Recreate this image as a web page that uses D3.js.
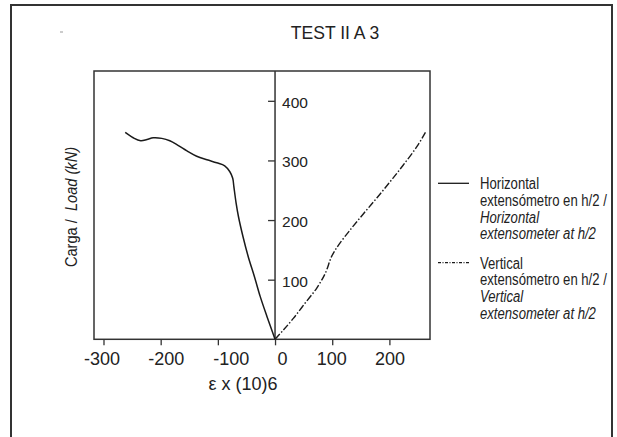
<!DOCTYPE html>
<html>
<head>
<meta charset="utf-8">
<script src="https://cdn.jsdelivr.net/npm/d3@7"></script>
<style>
  body { margin: 0; background: #fff; }
  svg { display: block; font-family: "Liberation Sans", Arial, sans-serif; }
</style>
</head>
<body>
<svg width="617" height="437"></svg>
<script>
// Horizontal extensometer (solid line)
const horizX = [-262, -248, -235, -224, -213, -198, -184, -169, -154, -137, -119, -102, -88, -79, -74, -72, -68, -64, -56, -47, -36, -26, -14, 0];
const horizY = [347, 338, 333, 335, 338, 337, 333, 325, 316, 307, 301, 296, 291, 281, 270, 256, 228, 206, 172, 139, 105, 72, 38, 0];

// Vertical extensometer (dash-dot line)
const vertX = [0, 15, 32, 52, 73, 88, 99, 111, 131, 155, 178, 201, 224, 248, 263];
const vertY = [0, 16, 35, 60, 86, 111, 139, 158, 183, 211, 237, 264, 292, 323, 347];

const xTicks = [-300, -200, -100, 0, 100, 200];
const yTicks = [100, 200, 300, 400];

const svg = d3.select('svg');

// outer frame
svg.append('rect')
  .attr('x', 11).attr('y', 5)
  .attr('width', 601).attr('height', 440)
  .attr('fill', 'none')
  .attr('stroke', '#333')
  .attr('stroke-width', 2);

// tiny stray mark at top left
svg.append('line')
  .attr('x1', 60).attr('x2', 63)
  .attr('y1', 32).attr('y2', 32)
  .attr('stroke', '#999');

// title
svg.append('text')
  .attr('x', 335).attr('y', 39)
  .attr('text-anchor', 'middle')
  .attr('font-size', 18.5)
  .attr('fill', '#222')
  .attr('transform', 'translate(335,0) scale(0.95,1) translate(-335,0)')
  .text('TEST II A 3');

// scales
const x = d3.scaleLinear().domain([-316.6, 271]).range([94, 430]);
const y = d3.scaleLinear().domain([0, 450]).range([339.3, 71]);

// plot box
svg.append('rect')
  .attr('x', x.range()[0]).attr('y', y.range()[1])
  .attr('width', x.range()[1] - x.range()[0])
  .attr('height', y.range()[0] - y.range()[1])
  .attr('fill', 'none')
  .attr('stroke', '#333')
  .attr('stroke-width', 1.5);

// X axis (labels in the original are a bit off their ticks)
const labelShift = { '-300': -2, '-200': 5, '-100': 13, '0': 7, '100': -1, '200': 0 };
const gx = svg.append('g')
  .attr('transform', `translate(0,${y(0)})`)
  .call(d3.axisBottom(x).tickValues(xTicks).tickSize(6).tickPadding(7));
gx.select('.domain').remove();
gx.selectAll('line').attr('stroke', '#333').attr('stroke-width', 1.3);
gx.selectAll('text')
  .attr('font-size', 18).attr('fill', '#222')
  .attr('font-family', '"Liberation Sans", Arial, sans-serif')
  .attr('dx', d => labelShift[d])
  .text(d => d < 0 ? '-' + Math.abs(d) : d);

// Y axis on zero line
const gy = svg.append('g')
  .attr('transform', `translate(${x(0)},0)`)
  .call(d3.axisRight(y).tickValues(yTicks).tickSizeInner(-7).tickSizeOuter(0).tickPadding(7));
gy.select('.domain').remove();
gy.selectAll('line').attr('stroke', '#333').attr('stroke-width', 1.3);
gy.selectAll('text')
  .attr('font-size', 15.5).attr('fill', '#222')
  .attr('font-family', '"Liberation Sans", Arial, sans-serif')
  .attr('y', 1.5);

svg.append('line')
  .attr('x1', x(0)).attr('x2', x(0))
  .attr('y1', y.range()[1]).attr('y2', y.range()[0])
  .attr('stroke', '#333')
  .attr('stroke-width', 1.5);

// axis titles
svg.append('text')
  .attr('x', 243).attr('y', 390)
  .attr('text-anchor', 'middle')
  .attr('font-size', 18)
  .attr('fill', '#222')
  .text('\u03b5 x (10)6');

const yt = svg.append('text')
  .attr('transform', 'translate(77,207) rotate(-90) scale(0.86,1)')
  .attr('text-anchor', 'middle')
  .attr('font-size', 17)
  .attr('fill', '#222');
yt.append('tspan').text('Carga /\u00a0\u00a0');
yt.append('tspan').attr('font-style', 'italic').text('Load (kN)');

// curves
const line = d3.line()
  .x(d => x(d[0]))
  .y(d => y(d[1]))
  .curve(d3.curveCatmullRom);

svg.append('path')
  .datum(horizX.map((v, i) => [v, horizY[i]]))
  .attr('d', line)
  .attr('fill', 'none')
  .attr('stroke', '#1a1a1a')
  .attr('stroke-width', 1.5);

svg.append('path')
  .datum(vertX.map((v, i) => [v, vertY[i]]))
  .attr('d', line)
  .attr('fill', 'none')
  .attr('stroke', '#1a1a1a')
  .attr('stroke-width', 1.4)
  .attr('stroke-dasharray', '7,2,1.5,2');

// legend
const legend = [
  { y: 183.3, dash: null, rows: [['Horizontal', false], ['extensómetro en h/2 /', false], ['Horizontal', true], ['extensometer at h/2', true]] },
  { y: 262.7, dash: '3,1.5,1,1.5', rows: [['Vertical', false], ['extensómetro en h/2 /', false], ['Vertical', true], ['extensometer at h/2', true]] }
];

legend.forEach(item => {
  svg.append('line')
    .attr('x1', 438).attr('x2', 469)
    .attr('y1', item.y).attr('y2', item.y)
    .attr('stroke', '#1a1a1a')
    .attr('stroke-width', 1.3)
    .attr('stroke-dasharray', item.dash);
  const g = svg.append('g')
    .attr('transform', 'translate(480,0) scale(0.82,1)');
  item.rows.forEach((r, i) => {
    g.append('text')
      .attr('x', 0)
      .attr('y', item.y + 6 + i * 16.7)
      .attr('font-size', 16)
      .attr('fill', '#222')
      .attr('font-style', r[1] ? 'italic' : 'normal')
      .text(r[0]);
  });
});
</script>
</body>
</html>
